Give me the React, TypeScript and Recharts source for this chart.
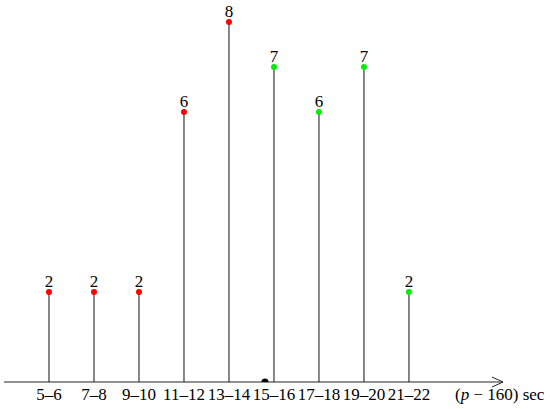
import React from 'react';
import { ComposedChart, Bar, Scatter, XAxis, YAxis, LabelList, Cell } from 'recharts';

const categories = ['5–6', '7–8', '9–10', '11–12', '13–14', '15–16', '17–18', '19–20', '21–22'];
const counts = [2, 2, 2, 6, 8, 7, 6, 7, 2];
const groups = ['red', 'red', 'red', 'red', 'red', 'green', 'green', 'green', 'green'];
const meanPoint = [{ x: 4.8, count: 0 }];

const groupColors: Record<string, string> = { red: '#ff0000', green: '#00ee00' };

const data = categories.map((cat, i) => ({ x: i, cat, count: counts[i], group: groups[i] }));

const FONT = '"Liberation Serif", "Times New Roman", serif';

const AxisLabel = (props: any) => {
  const vb = props.viewBox || {};
  const ex = vb.x + vb.width;
  const ey = vb.y;
  return (
    <g>
      <polyline
        points={`${ex - 11},${ey - 5} ${ex},${ey} ${ex - 11},${ey + 5}`}
        fill="none"
        stroke="#222"
        strokeWidth={1}
      />
      <text x={ex - 48} y={ey + 18} fontFamily={FONT} fontSize={17} fill="#000">
        <tspan>(</tspan>
        <tspan fontStyle="italic">p</tspan>
        <tspan> − 160) sec</tspan>
      </text>
    </g>
  );
};

export default function App() {
  return (
    <div style={{ position: 'absolute', left: 0, top: 0, width: 550, height: 409, background: '#fff' }}>
      <ComposedChart
        width={550}
        height={409}
        data={data}
        margin={{ top: 4, right: 47, bottom: 0, left: 4 }}
      >
        <XAxis
          type="number"
          dataKey="x"
          domain={[-1, 10.09]}
          ticks={[0, 1, 2, 3, 4, 5, 6, 7, 8]}
          tickFormatter={(v: number) => categories[v] ?? ''}
          interval={0}
          allowDataOverflow
          height={27}
          tickLine={false}
          tickMargin={0}
          axisLine={{ stroke: '#222', strokeWidth: 1 }}
          tick={{ fill: '#000', fontSize: 17, fontFamily: FONT }}
          label={{ content: AxisLabel }}
        />
        <YAxis type="number" domain={[0, 8.4]} hide allowDataOverflow />
        <Bar dataKey="count" barSize={1} fill="#111" isAnimationActive={false}>
          <LabelList
            dataKey="count"
            position="top"
            offset={5}
            style={{ fill: '#000', fontSize: 17, fontFamily: FONT }}
          />
        </Bar>
        <Scatter
          dataKey="count"
          isAnimationActive={false}
          shape={(p: any) => <circle cx={p.cx} cy={p.cy} r={3} fill={p.fill} />}
        >
          {data.map((d, i) => (
            <Cell key={i} fill={groupColors[d.group]} />
          ))}
        </Scatter>
        <Scatter
          data={meanPoint}
          dataKey="count"
          isAnimationActive={false}
          shape={(p: any) => <circle cx={p.cx} cy={p.cy} r={3.5} fill="#000" />}
        />
      </ComposedChart>
    </div>
  );
}
